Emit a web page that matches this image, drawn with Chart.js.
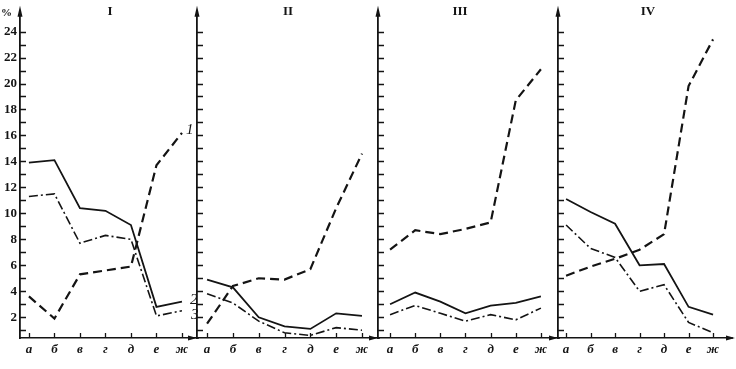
<!DOCTYPE html>
<html>
<head>
<meta charset="utf-8">
<script src="https://cdn.jsdelivr.net/npm/chart.js@4.4.1/dist/chart.umd.min.js"></script>
<style>
  html, body { margin: 0; background: #fff; }
  #wrap { position: relative; width: 736px; height: 369px; }
  #wrap canvas { position: absolute; left: 0; top: 0; }
</style>
</head>
<body>
<div id="wrap">
  <canvas id="p1" width="736" height="369"></canvas>
  <canvas id="p2" width="736" height="369"></canvas>
  <canvas id="p3" width="736" height="369"></canvas>
  <canvas id="p4" width="736" height="369"></canvas>
</div>
<script>
// ── data ───────────────────────────────────────────────────────────────
const categories  = ['а', 'б', 'в', 'г', 'д', 'е', 'ж'];
const yTicks      = [1,2,3,4,5,6,7,8,9,10,11,12,13,14,15,16,17,18,19,20,21,22,23,24];
const yLabels     = [2,4,6,8,10,12,14,16,18,20,22,24];
const panelTitles = ['I', 'II', 'III', 'IV'];
const seriesNames = ['1', '2', '3'];

// curve 1 (dashed), curve 2 (solid), curve 3 (dash-dot)
const p1Curve1 = [3.6, 1.9, 5.3, 5.6, 5.9, 13.7, 16.2];
const p1Curve2 = [13.9, 14.1, 10.4, 10.2, 9.1, 2.8, 3.2];
const p1Curve3 = [11.3, 11.5, 7.7, 8.3, 8.0, 2.1, 2.5];

const p2Curve1 = [1.5, 4.4, 5.0, 4.9, 5.7, 10.4, 14.6];
const p2Curve2 = [4.9, 4.3, 2.0, 1.3, 1.1, 2.3, 2.1];
const p2Curve3 = [3.8, 3.1, 1.7, 0.8, 0.6, 1.2, 1.0];

const p3Curve1 = [7.2, 8.7, 8.4, 8.8, 9.3, 18.7, 21.1];
const p3Curve2 = [3.0, 3.9, 3.2, 2.3, 2.9, 3.1, 3.6];
const p3Curve3 = [2.2, 2.9, 2.3, 1.7, 2.2, 1.8, 2.7];

const p4Curve1 = [5.2, 5.9, 6.5, 7.2, 8.4, 19.8, 23.4];
const p4Curve2 = [11.1, 10.1, 9.2, 6.0, 6.1, 2.8, 2.2];
const p4Curve3 = [9.1, 7.3, 6.6, 4.0, 4.5, 1.6, 0.8];

// ── layout of the four panels ─────────────────────────────────────────
const panels = [
  { id: 'p1', left: 20,  right: 197, xMin: -0.35, xMax: 6.59, titleX: 110, curves: [p1Curve1, p1Curve2, p1Curve3], first: true },
  { id: 'p2', left: 197, right: 378, xMin: -0.39, xMax: 6.62, titleX: 288, curves: [p2Curve1, p2Curve2, p2Curve3] },
  { id: 'p3', left: 378, right: 558, xMin: -0.48, xMax: 6.68, titleX: 460, curves: [p3Curve1, p3Curve2, p3Curve3] },
  { id: 'p4', left: 558, right: 728, xMin: -0.33, xMax: 6.61, titleX: 648, curves: [p4Curve1, p4Curve2, p4Curve3], last: true },
];

const INK = '#141414';
const SERIF = '"Liberation Serif", "DejaVu Serif", serif';
const lineStyles = [
  { borderDash: [9, 5], borderWidth: 2.2 },
  { borderDash: [],     borderWidth: 1.8 },
  { borderDash: [9, 3, 2, 3], borderWidth: 1.6 },
];

// ── axis ticks inside the frame, arrows, titles, curve numbers ────────
const decor = {
  id: 'decor',
  afterDraw(chart, args, o) {
    const { ctx, chartArea: a, scales: { x, y } } = chart;
    ctx.save();
    ctx.strokeStyle = INK;
    ctx.fillStyle = INK;
    ctx.lineWidth = 1.3;
    ctx.beginPath();
    y.ticks.forEach(t => {
      const py = Math.round(y.getPixelForValue(t.value)) + 0.5;
      ctx.moveTo(a.left, py); ctx.lineTo(a.left + 6, py);
    });
    x.ticks.forEach(t => {
      const px = Math.round(x.getPixelForValue(t.value)) + 0.5;
      ctx.moveTo(px, a.bottom); ctx.lineTo(px, a.bottom - 5);
    });
    // x axis runs a little past the frame
    ctx.moveTo(a.right, a.bottom); ctx.lineTo(a.right + (o.last ? 5 : 2), a.bottom);
    ctx.stroke();

    // arrow on y axis
    ctx.beginPath();
    ctx.moveTo(a.left, a.top - 5);
    ctx.lineTo(a.left - 2.5, a.top + 6);
    ctx.lineTo(a.left + 2.5, a.top + 6);
    ctx.closePath(); ctx.fill();
    // arrow on x axis
    const ax = a.right + (o.last ? 7 : 0);
    ctx.beginPath();
    ctx.moveTo(ax, a.bottom);
    ctx.lineTo(ax - 9, a.bottom - 2.5);
    ctx.lineTo(ax - 9, a.bottom + 2.5);
    ctx.closePath(); ctx.fill();

    ctx.font = 'bold 13px ' + SERIF;
    ctx.textAlign = 'center';
    ctx.textBaseline = 'middle';
    ctx.fillText(o.title, o.titleX, 12);

    if (o.first) {
      ctx.font = 'bold 11px ' + SERIF;
      ctx.textAlign = 'left';
      ctx.fillText('%', 1, 13);
      ctx.font = 'italic 15px ' + SERIF;
      const offs = [[4, -3], [8, -2], [9, 4]];
      chart.data.datasets.forEach((ds, i) => {
        const last = ds.data[ds.data.length - 1];
        ctx.fillText(seriesNames[i], x.getPixelForValue(last.x) + offs[i][0], y.getPixelForValue(last.y) + offs[i][1]);
      });
    }
    ctx.restore();
  }
};

panels.forEach((p, k) => {
  const yWidth = p.first ? 20 : 0;   // only the first panel carries labels
  new Chart(document.getElementById(p.id), {
    type: 'line',
    data: {
      datasets: p.curves.map((vals, i) => ({
        label: seriesNames[i],
        data: vals.map((v, j) => ({ x: j, y: v })),
        borderColor: INK,
        borderWidth: lineStyles[i].borderWidth,
        borderDash: lineStyles[i].borderDash,
        pointRadius: 0,
        tension: 0,
        fill: false,
      }))
    },
    options: {
      responsive: false,
      animation: false,
      events: [],
      layout: { padding: { left: p.left - yWidth, right: 736 - p.right, top: 7, bottom: 0 } },
      plugins: {
        legend: { display: false },
        tooltip: { enabled: false },
        decor: { title: panelTitles[k], titleX: p.titleX, first: !!p.first, last: !!p.last },
      },
      scales: {
        x: {
          type: 'linear',
          min: p.xMin,
          max: p.xMax,
          afterBuildTicks: s => { s.ticks = categories.map((c, i) => ({ value: i })); },
          afterFit: s => { s.height = 31; },
          grid: { display: false, drawTicks: false },
          border: { display: true, color: INK, width: 1.5 },
          ticks: {
            autoSkip: false, maxRotation: 0, padding: 4, color: INK,
            font: { family: SERIF, style: 'italic', weight: 'bold', size: 13 },
            callback: v => categories[v],
          },
        },
        y: {
          min: 0.4,
          max: 25.6,
          afterBuildTicks: s => { s.ticks = yTicks.map(v => ({ value: v })); },
          afterFit: s => { s.width = yWidth; },
          grid: { display: false, drawTicks: false },
          border: { display: true, color: INK, width: 1.8 },
          ticks: {
            autoSkip: false, padding: 3, color: INK,
            font: { family: SERIF, weight: 'bold', size: 13 },
            callback: v => (p.first && yLabels.includes(v)) ? String(v) : '',
          },
        },
      },
    },
    plugins: [decor],
  });
});
</script>
</body>
</html>
